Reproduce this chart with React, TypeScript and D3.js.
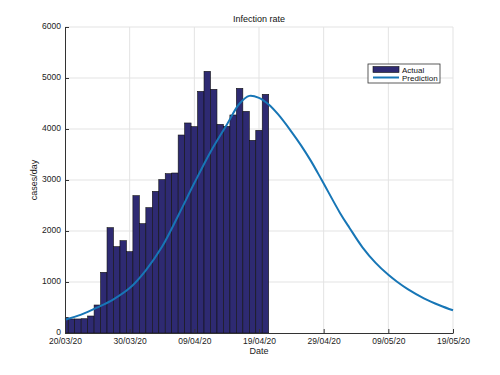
import { useRef, useEffect } from 'react';
import * as d3 from 'd3';

// daily cases, day 0 = 20/03/20
const actualCases = [
  307, 275, 275, 280, 333, 549, 1190, 2065, 1693, 1810, 1595, 2693, 2144, 2458, 2778, 3007,
  3124, 3137, 3882, 4118, 4046, 4738, 5131, 4778, 4091, 4052, 4275, 4797, 4346, 3778, 3974, 4680,
];

// prediction read at these days
const predDays = [0, 2.5, 5, 7.5, 10, 12.5, 15, 17.5, 20, 22.5, 25, 27, 28.5, 30, 31.5, 33, 35, 36.5, 38, 39.7, 42.5, 44, 46, 48, 50, 51.3, 53, 55.5, 58, 60];
const predCases = [260, 360, 500, 660, 880, 1230, 1690, 2300, 2940, 3550, 4080, 4500, 4650, 4610, 4480, 4280, 3950, 3680, 3380, 3000, 2360, 2060, 1680, 1380, 1140, 1010, 860, 680, 540, 445];

const xTickDays = [0, 10, 20, 30, 40, 50, 60];
const xTickLabels = ['20/03/20', '30/03/20', '09/04/20', '19/04/20', '29/04/20', '09/05/20', '19/05/20'];
const yTicks = [0, 1000, 2000, 3000, 4000, 5000, 6000];

export default function App() {
  const svgRef = useRef<SVGSVGElement>(null);

  useEffect(() => {
    if (!svgRef.current) return;
    const width = 500;
    const height = 375;
    const margin = { top: 27, right: 47, bottom: 42, left: 65 };
    const font = 'Liberation Sans, Arial, sans-serif';

    const svg = d3.select(svgRef.current).attr('width', width).attr('height', height);
    svg.selectAll('*').remove();

    const x = d3.scaleLinear().domain([0, 60]).range([margin.left, width - margin.right]);
    const y = d3.scaleLinear().domain([0, 6000]).range([height - margin.bottom, margin.top]);

    svg.append('defs').append('clipPath').attr('id', 'plot-clip')
      .append('rect')
      .attr('x', x(0)).attr('y', y(6000))
      .attr('width', x(60) - x(0)).attr('height', y(0) - y(6000));

    // grid
    const grid = svg.append('g').attr('stroke', '#e3e3e3').attr('stroke-width', 1);
    grid.selectAll('line.gx').data(xTickDays.slice(1)).join('line')
      .attr('x1', d => x(d)).attr('x2', d => x(d))
      .attr('y1', y(0)).attr('y2', y(6000));
    grid.selectAll('line.gy').data(yTicks.slice(1)).join('line')
      .attr('x1', x(0)).attr('x2', x(60))
      .attr('y1', d => y(d)).attr('y2', d => y(d));

    // bars
    svg.append('g').attr('clip-path', 'url(#plot-clip)')
      .selectAll('rect').data(actualCases).join('rect')
      .attr('x', (_, i) => x(i - 0.5))
      .attr('width', (_, i) => x(i + 0.5) - x(i - 0.5))
      .attr('y', d => y(d))
      .attr('height', d => y(0) - y(d))
      .attr('fill', '#2e2a72')
      .attr('stroke', '#111')
      .attr('stroke-width', 0.6);

    // prediction
    const line = d3.line<number>()
      .x((_, i) => x(predDays[i]))
      .y(d => y(d))
      .curve(d3.curveCatmullRom.alpha(0.5));
    svg.append('path')
      .datum(predCases)
      .attr('fill', 'none')
      .attr('stroke', '#1776b6')
      .attr('stroke-width', 2)
      .attr('d', line);

    // axes
    const xAxis = d3.axisBottom(x).tickValues(xTickDays)
      .tickFormat((_, i) => xTickLabels[i]).tickSizeInner(-4).tickSizeOuter(0).tickPadding(5);
    const gx = svg.append('g').attr('transform', `translate(0,${y(0)})`).call(xAxis);
    const yAxis = d3.axisLeft(y).tickValues(yTicks)
      .tickFormat(d3.format('d')).tickSizeInner(-4).tickSizeOuter(0).tickPadding(4);
    const gy = svg.append('g').attr('transform', `translate(${x(0)},0)`).call(yAxis);
    [gx, gy].forEach(g => {
      g.select('.domain').attr('stroke', '#333');
      g.selectAll('.tick line').attr('stroke', '#333');
      g.selectAll('.tick text').attr('fill', '#222').attr('font-size', 8.5).attr('font-family', font);
    });
    gy.selectAll('.tick text').attr('dy', '0.2em');

    svg.append('text').attr('x', (x(0) + x(60)) / 2).attr('y', 22)
      .attr('text-anchor', 'middle').attr('font-size', 9).attr('font-family', font).attr('fill', '#111')
      .text('Infection rate');
    svg.append('text').attr('x', (x(0) + x(60)) / 2).attr('y', 354)
      .attr('text-anchor', 'middle').attr('font-size', 9).attr('font-family', font).attr('fill', '#222')
      .text('Date');
    svg.append('text')
      .attr('transform', `translate(37,${(y(0) + y(6000)) / 2}) rotate(-90)`)
      .attr('text-anchor', 'middle').attr('font-size', 9).attr('font-family', font).attr('fill', '#222')
      .text('cases/day');

    // legend
    const lg = svg.append('g').attr('transform', 'translate(368,64)');
    lg.append('rect').attr('width', 72).attr('height', 19)
      .attr('fill', '#fff').attr('stroke', '#333').attr('stroke-width', 0.8);
    lg.append('rect').attr('x', 5).attr('y', 2.5).attr('width', 26).attr('height', 6)
      .attr('fill', '#2e2a72').attr('stroke', '#111').attr('stroke-width', 0.6);
    lg.append('line').attr('x1', 5).attr('x2', 31).attr('y1', 13.5).attr('y2', 13.5)
      .attr('stroke', '#1776b6').attr('stroke-width', 2);
    lg.append('text').attr('x', 34).attr('y', 8.5).attr('font-size', 8).attr('font-family', font)
      .attr('fill', '#111').text('Actual');
    lg.append('text').attr('x', 34).attr('y', 16.8).attr('font-size', 8).attr('font-family', font)
      .attr('fill', '#111').text('Prediction');
  }, []);

  return (
    <svg ref={svgRef} style={{ position: 'absolute', left: 0, top: 0, background: '#fff' }}></svg>
  );
}
